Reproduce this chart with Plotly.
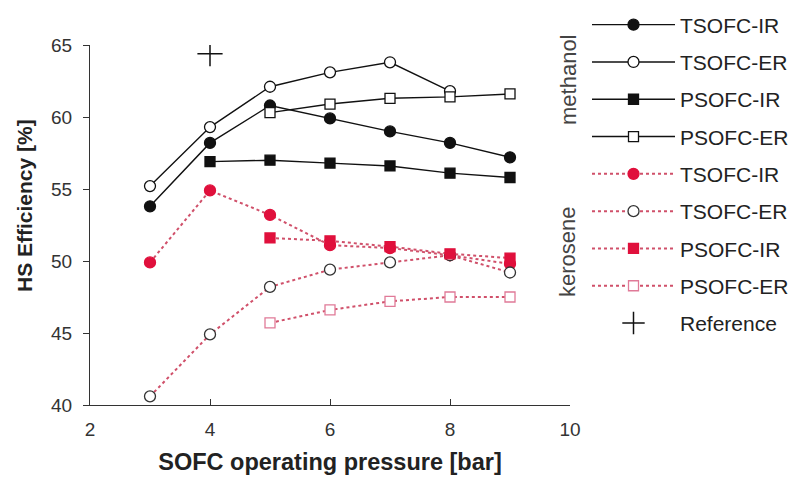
import plotly.graph_objects as go

# methanol
meth_tsofc_ir_x = [3, 4, 5, 6, 7, 8, 9]
meth_tsofc_ir = [53.8, 58.2, 60.8, 59.9, 59.0, 58.2, 57.2]
meth_tsofc_er_x = [3, 4, 5, 6, 7, 8]
meth_tsofc_er = [55.2, 59.3, 62.1, 63.1, 63.8, 61.8]
meth_psofc_ir_x = [4, 5, 6, 7, 8, 9]
meth_psofc_ir = [56.9, 57.0, 56.8, 56.6, 56.1, 55.8]
meth_psofc_er_x = [5, 6, 7, 8, 9]
meth_psofc_er = [60.3, 60.9, 61.3, 61.4, 61.6]

# kerosene
ker_tsofc_ir_x = [3, 4, 5, 6, 7, 8, 9]
ker_tsofc_ir = [49.9, 54.9, 53.2, 51.1, 50.9, 50.4, 49.8]
ker_tsofc_er_x = [3, 4, 5, 6, 7, 8, 9]
ker_tsofc_er = [40.6, 44.9, 48.2, 49.4, 49.9, 50.4, 49.2]
ker_psofc_ir_x = [5, 6, 7, 8, 9]
ker_psofc_ir = [51.6, 51.4, 51.0, 50.5, 50.2]
ker_psofc_er_x = [5, 6, 7, 8, 9]
ker_psofc_er = [45.7, 46.6, 47.2, 47.5, 47.5]

ref_x = [4]
ref_y = [64.4]

x_ticks = [2, 4, 6, 8, 10]
y_ticks = [40, 45, 50, 55, 60, 65]

RED = "#e0103c"
PINK = "#e07a98"
REDLINE = "#d0506a"
BLACK = "#111111"

fig = go.Figure()

def add(name, x, y, symbol, mcolor, mline, lcolor, dash, group, size=11, lw=1.4):
    fig.add_trace(go.Scatter(
        x=x, y=y, name=name, mode="lines+markers",
        line=dict(color=lcolor, width=lw, dash=dash),
        marker=dict(symbol=symbol, size=size, color=mcolor,
                    line=dict(color=mline, width=1.3)),
        legendgroup=group,
    ))

add("TSOFC-IR", meth_tsofc_ir_x, meth_tsofc_ir, "circle", BLACK, BLACK, BLACK, "solid", "g1")
add("TSOFC-ER", meth_tsofc_er_x, meth_tsofc_er, "circle", "white", BLACK, BLACK, "solid", "g2")
add("PSOFC-IR", meth_psofc_ir_x, meth_psofc_ir, "square", BLACK, BLACK, BLACK, "solid", "g3", size=10)
add("PSOFC-ER", meth_psofc_er_x, meth_psofc_er, "square", "white", BLACK, BLACK, "solid", "g4", size=10)
add("TSOFC-IR", ker_tsofc_ir_x, ker_tsofc_ir, "circle", RED, RED, REDLINE, "dot", "g5", lw=2)
add("TSOFC-ER", ker_tsofc_er_x, ker_tsofc_er, "circle", "white", "#333333", REDLINE, "dot", "g6", lw=2)
add("PSOFC-IR", ker_psofc_ir_x, ker_psofc_ir, "square", RED, RED, REDLINE, "dot", "g7", size=10, lw=2)
add("PSOFC-ER", ker_psofc_er_x, ker_psofc_er, "square", "white", PINK, REDLINE, "dot", "g8", size=10, lw=2)

fig.add_trace(go.Scatter(
    x=ref_x, y=ref_y, name="Reference", mode="markers",
    marker=dict(symbol="cross-thin-open", size=18, color=BLACK,
                line=dict(color=BLACK, width=1.5)),
    legendgroup="g9",
))

FONT = "Liberation Sans, Arial, sans-serif"
W, H = 799, 479
ML, MR, MT, MB = 90, 229, 45, 74
PW, PH = W - ML - MR, H - MT - MB


def px_x(p):
    return (p - ML) / PW


def px_y(p):
    return 1 - (p - MT) / PH


fig.update_layout(
    width=W, height=H,
    margin=dict(l=ML, r=MR, t=MT, b=MB, autoexpand=False),
    paper_bgcolor="white", plot_bgcolor="white",
    font=dict(family=FONT, color="#333333", size=18),
    showlegend=True,
    legend=dict(
        x=px_x(587), xref="paper", xanchor="left",
        y=px_y(174), yanchor="middle",
        font=dict(family=FONT, size=21, color="#222222"),
        tracegroupgap=7, itemwidth=83, maxheight=1.0,
        bgcolor="rgba(0,0,0,0)",
    ),
    xaxis=dict(
        range=[2, 10], tickvals=x_ticks, ticks="inside", ticklen=6,
        tickcolor="#333333", showline=True, linecolor="#333333", linewidth=1.3,
        showgrid=False, zeroline=False, automargin=False,
        tickfont=dict(size=19, color="#333333"), ticklabelstandoff=7,
        title=dict(text="<b>SOFC operating pressure [bar]</b>",
                   font=dict(size=23.5, color="#222222"), standoff=14),
    ),
    yaxis=dict(
        range=[40, 65], tickvals=y_ticks, ticks="outside", ticklen=6,
        tickcolor="#333333", showline=True, linecolor="#333333", linewidth=1.3,
        showgrid=False, zeroline=False, automargin=False,
        tickfont=dict(size=19, color="#333333"), ticklabelstandoff=7,
    ),
    annotations=[
        dict(text="<b>HS Efficiency [%]</b>", textangle=-90,
             x=px_x(24), y=px_y(206), xanchor="center", yanchor="middle",
             xref="paper", yref="paper", showarrow=False,
             font=dict(size=21, color="#222222")),
        dict(text="methanol", textangle=-90, x=px_x(568), y=px_y(80),
             xanchor="center", yanchor="middle",
             xref="paper", yref="paper", showarrow=False,
             font=dict(size=22, color="#444444")),
        dict(text="kerosene", textangle=-90, x=px_x(568), y=px_y(252),
             xanchor="center", yanchor="middle",
             xref="paper", yref="paper", showarrow=False,
             font=dict(size=22, color="#444444")),
    ],
)

fig.write_html("out.html", config={"displayModeBar": False},
               post_script="document.body.style.margin='0';")
